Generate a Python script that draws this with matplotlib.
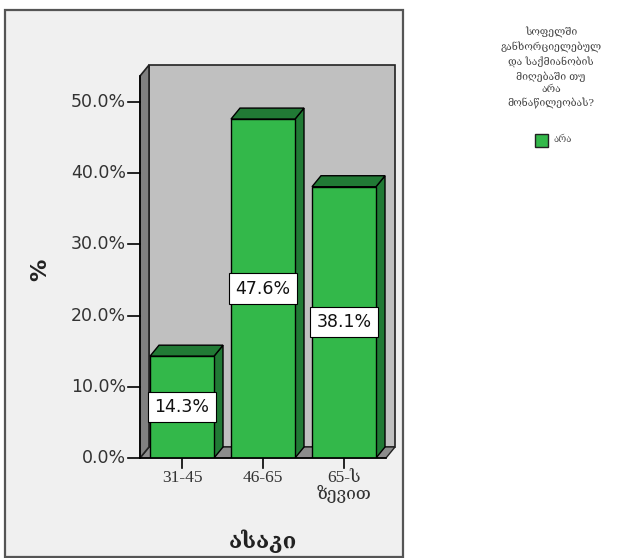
import numpy as np
import matplotlib.pyplot as plt
from matplotlib.patches import Polygon, Rectangle

# data
categories = ['31-45', '46-65', '65-ს\nზევით']
percent = [14.3, 47.6, 38.1]
yticks = [0, 10, 20, 30, 40, 50]
legend_title = 'სოფელში\nგანხორციელებულ\nდა საქმიანობის\nმიღებაში თუ\nარა\nმონაწილეობას?'
legend_item = 'არა'
xlabel = 'ასაკი'
ylabel = '%'

W, H = 619, 558
fig = plt.figure(figsize=(W / 100, H / 100), dpi=100)
fig.patch.set_facecolor('white')

def fx(px):
    return px / W

def fy(py):
    return 1 - py / H

# grey panel round the chart
fig.patches.append(Rectangle((fx(5), fy(557)), fx(403) - fx(5), fy(10) - fy(557),
                             transform=fig.transFigure, facecolor='#f0f0f0',
                             edgecolor='#555555', lw=1.6, zorder=-5))

# axes: front plane x 140..386, y 458 (0%) ; back plane goes up to y=65
left_px, right_px, bot_px, top_px = 140, 395, 458, 65
ax = fig.add_axes([fx(left_px), fy(bot_px), fx(right_px) - fx(left_px), fy(top_px) - fy(bot_px)])
ax.set_zorder(2)
pxu = 81.0      # pixels per category
pyu = 7.12      # pixels per percent
x0 = (left_px - 182) / pxu
x1 = (right_px - 182) / pxu
ymax = (bot_px - top_px) / pyu
ax.set_xlim(x0, x1)
ax.set_ylim(0, ymax)
ax.set_facecolor('none')
for s in ax.spines.values():
    s.set_visible(False)
ax.set_xticks([])
ax.set_yticks([])

dx = 9 / pxu
dy = 11 / pyu
xf_right = (386 - 182) / pxu

# back wall
ax.add_patch(Polygon([(x0 + dx, dy), (x1, dy), (x1, ymax), (x0 + dx, ymax)],
                     closed=True, facecolor='#c0c0c0', edgecolor='#222222', lw=1.2,
                     zorder=1, clip_on=False))
# floor
ax.add_patch(Polygon([(x0, 0), (xf_right, 0), (x1, dy), (x0 + dx, dy)],
                     closed=True, facecolor='#8c8c8c', edgecolor='#222222', lw=1,
                     zorder=1, clip_on=False))
# left wall
ax.add_patch(Polygon([(x0, 0), (x0 + dx, dy), (x0 + dx, ymax), (x0, ymax - dy)],
                     closed=True, facecolor='#808080', edgecolor='#222222', lw=1.2,
                     zorder=2, clip_on=False))

front = '#33b84a'
dark = '#217a35'
bw = 64 / pxu
for i, v in enumerate(percent):
    xl = i - bw / 2
    xr = i + bw / 2
    # side
    ax.add_patch(Polygon([(xr, 0), (xr + dx, dy), (xr + dx, v + dy), (xr, v)],
                         closed=True, facecolor=dark, edgecolor='black', lw=1, zorder=3))
    # top
    ax.add_patch(Polygon([(xl, v), (xl + dx, v + dy), (xr + dx, v + dy), (xr, v)],
                         closed=True, facecolor=dark, edgecolor='black', lw=1, zorder=3))
    # front
    ax.add_patch(Rectangle((xl, 0), bw, v, facecolor=front, edgecolor='black', lw=1, zorder=4))
    ax.text(i, v / 2, f'{v:.1f}%', ha='center', va='center', fontsize=12.5,
            family='DejaVu Sans', zorder=6, color='#111111',
            bbox=dict(boxstyle='square,pad=0.35', facecolor='white', edgecolor='black', lw=0.8))

# axis lines and ticks
ax.plot([x0, x0], [0, ymax - dy], color='black', lw=1.2, clip_on=False, zorder=5)
ax.plot([x0, xf_right], [0, 0], color='black', lw=1.2, clip_on=False, zorder=5)
tick_len_x = 12 / pxu
for t in yticks:
    ax.plot([x0 - tick_len_x, x0], [t, t], color='black', lw=1.2, clip_on=False)
    ax.text(x0 - tick_len_x - 2 / pxu, t, f'{t:.1f}%', ha='right', va='center',
            fontsize=12.5, family='DejaVu Sans', color='#333333')
tick_len_y = 10 / pyu
for i, c in enumerate(categories):
    ax.plot([i, i], [0, -tick_len_y], color='black', lw=1.2, clip_on=False)
    ax.text(i, -tick_len_y - 2 / pyu, c, ha='center', va='top', fontsize=12.5,
            family=['Liberation Serif', 'DejaVu Serif'], linespacing=0.95, color='#333333')

fig.text(fx(263), fy(541), xlabel, ha='center', va='center', fontsize=16,
         fontweight='bold', family=['DejaVu Serif'], color='#222222')
fig.text(fx(40), fy(270), ylabel, ha='center', va='center', fontsize=16,
         fontweight='bold', rotation=90, family='DejaVu Sans', color='#222222')

# legend
fig.text(fx(551), fy(68), legend_title, ha='center', va='center', fontsize=7.5,
         family=['DejaVu Serif'], linespacing=1.45, color='#444444')
fig.patches.append(Rectangle((fx(535), fy(147)), fx(548) - fx(535), fy(134) - fy(147),
                             transform=fig.transFigure, facecolor=front,
                             edgecolor='#222222', lw=1.0))
fig.text(fx(553), fy(140), legend_item, ha='left', va='center', fontsize=7,
         family=['DejaVu Serif'], color='#555555')

fig.savefig('out.png', dpi=100)
